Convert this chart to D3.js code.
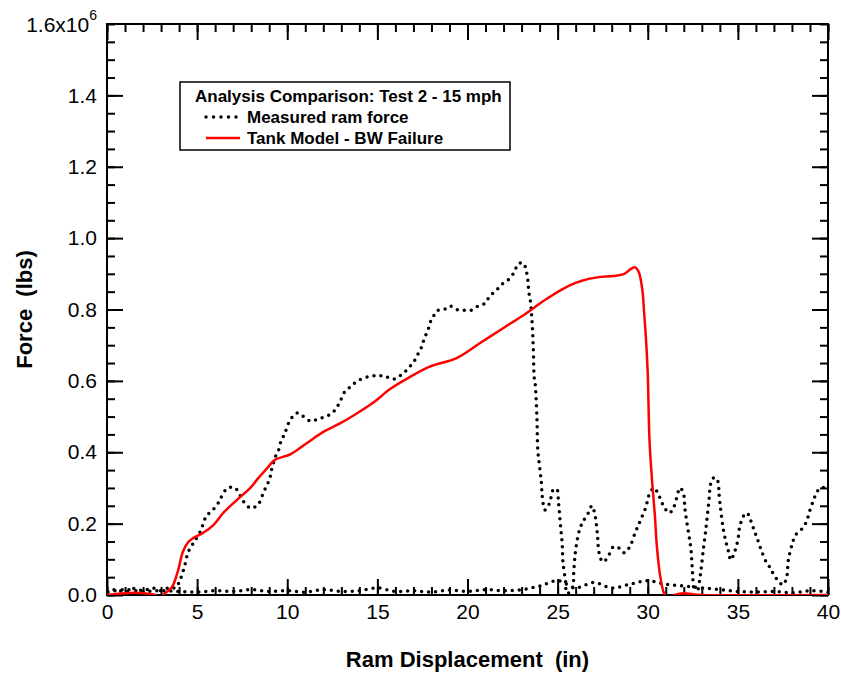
<!DOCTYPE html>
<html>
<head>
<meta charset="utf-8">
<script src="https://cdn.jsdelivr.net/npm/d3@7"></script>
<style>
  body { margin: 0; background: #fff; }
  svg { font-family: "Liberation Sans", Arial, sans-serif; }
  .axis path { display: none; }
  .axis line { stroke: #000; stroke-width: 2px; }
  .axis text { font-size: 21px; fill: #000; }
  .title { white-space: pre; }
</style>
</head>
<body>
<div id="vis"></div>
<script>
const MARGINS = { left: 107, right: 13, top: 24, bottom: 78 };
const FRAME_WIDTH = 841;
const FRAME_HEIGHT = 673;
const VIS_WIDTH = FRAME_WIDTH - MARGINS.left - MARGINS.right;
const VIS_HEIGHT = FRAME_HEIGHT - MARGINS.top - MARGINS.bottom;

// tick values
const X_MAJOR = [0, 5, 10, 15, 20, 25, 30, 35, 40];
const Y_MAJOR = [0, 0.2e6, 0.4e6, 0.6e6, 0.8e6, 1.0e6, 1.2e6, 1.4e6];

// measured ram force, loading (in, lbs x 1e6)
const measuredDisp = [0, 0.5, 1, 1.5, 2, 2.5, 3, 3.5, 3.8, 4.05, 4.3, 4.5, 4.8, 5.2, 5.5, 5.9, 6.2, 6.4, 6.7, 7.1,
  7.6, 8.0, 8.4, 8.7, 8.9, 9.05, 9.15, 9.4, 9.55, 9.67, 9.85, 10.0, 10.2, 10.55, 10.9, 11.3, 11.7, 12.1, 12.5, 12.8,
  13.0, 13.2, 13.55, 13.9, 14.5, 15.0, 15.4, 15.9, 16.4, 16.8, 17.1, 17.3, 17.5, 17.6, 17.8, 17.9, 18.1, 18.3, 18.7, 19.0,
  19.4, 19.8, 20.2, 20.6, 21.0, 21.2, 21.6, 21.9, 22.3, 22.6, 22.8, 23.1, 23.25, 23.35, 23.4, 23.5, 23.55, 23.6, 23.65, 23.7,
  23.75, 23.85, 23.9, 24.0, 24.1, 24.15, 24.3, 24.55, 24.75, 24.95, 25.05, 25.15, 25.25, 25.3, 25.45, 25.5, 25.8, 25.9, 26.0, 26.2,
  26.4, 26.7, 26.9, 27.05, 27.2, 27.3, 27.5, 27.75, 28.1, 28.4, 28.7, 29.0, 29.3, 29.6, 29.9, 30.05, 30.35, 30.65, 30.9, 31.2,
  31.45, 31.8, 32.0, 32.05, 32.15, 32.3, 32.4, 32.45, 32.5, 32.55, 32.75, 32.9, 33.0, 33.1, 33.2, 33.3, 33.4, 33.5, 33.7, 33.9,
  33.95, 34.05, 34.2, 34.35, 34.5, 34.6, 34.8, 35.0, 35.1, 35.3, 35.5, 35.7, 35.9, 36.1, 36.35, 36.6, 36.8, 37.0, 37.3, 37.5,
  37.7, 37.8, 38.0, 38.2, 38.6, 38.8, 39.0, 39.2, 39.4, 39.6, 40];
const measuredForce = [0.010, 0.015, 0.008, 0.018, 0.012, 0.020, 0.012, 0.022, 0.020, 0.042, 0.080, 0.120, 0.146, 0.180, 0.220, 0.240, 0.260, 0.280, 0.300, 0.300,
  0.260, 0.243, 0.255, 0.290, 0.310, 0.330, 0.355, 0.395, 0.410, 0.434, 0.450, 0.473, 0.493, 0.510, 0.500, 0.487, 0.493, 0.500, 0.510, 0.530,
  0.550, 0.570, 0.585, 0.600, 0.612, 0.615, 0.613, 0.605, 0.620, 0.640, 0.660, 0.680, 0.700, 0.720, 0.740, 0.760, 0.780, 0.796, 0.800, 0.810,
  0.800, 0.798, 0.798, 0.810, 0.818, 0.835, 0.854, 0.870, 0.885, 0.905, 0.927, 0.930, 0.910, 0.882, 0.850, 0.820, 0.790, 0.750, 0.690, 0.610,
  0.594, 0.500, 0.406, 0.360, 0.313, 0.275, 0.238, 0.257, 0.294, 0.297, 0.258, 0.200, 0.146, 0.090, 0.034, 0.005, 0.014, 0.070, 0.126, 0.180,
  0.205, 0.230, 0.250, 0.230, 0.174, 0.118, 0.093, 0.103, 0.135, 0.132, 0.118, 0.135, 0.174, 0.210, 0.247, 0.277, 0.300, 0.275, 0.247, 0.230,
  0.247, 0.300, 0.280, 0.247, 0.210, 0.163, 0.126, 0.090, 0.050, 0.022, 0.014, 0.050, 0.090, 0.135, 0.174, 0.220, 0.266, 0.313, 0.330, 0.317,
  0.286, 0.238, 0.182, 0.146, 0.118, 0.098, 0.118, 0.154, 0.190, 0.220, 0.230, 0.210, 0.182, 0.154, 0.118, 0.090, 0.076, 0.056, 0.036, 0.028,
  0.048, 0.098, 0.140, 0.168, 0.188, 0.205, 0.238, 0.266, 0.290, 0.300, 0.300];

// measured ram force, unloading back along zero
const unloadDisp = [40, 39, 38, 37, 36, 35, 34, 33, 32, 31, 30, 29, 28, 27, 26, 25, 24, 23, 22, 21,
  20, 19, 18, 17, 16, 15, 14, 13, 12, 11, 10, 9, 8, 7, 6, 5, 4, 3, 2, 1, 0];
const unloadForce = [0.008, 0.012, 0.006, 0.010, 0.008, 0.010, 0.015, 0.020, 0.025, 0.030, 0.040, 0.030, 0.020, 0.035, 0.020, 0.040, 0.025, 0.015, 0.012, 0.015,
  0.010, 0.014, 0.008, 0.012, 0.010, 0.020, 0.012, 0.010, 0.015, 0.008, 0.012, 0.010, 0.015, 0.010, 0.012, 0.008, 0.010, 0.012, 0.010, 0.015, 0.008];

// tank model - BW failure
const modelDisp = [0, 0.5, 1, 1.5, 2, 2.5, 2.7, 2.9, 3.1, 3.6, 3.95, 4.2, 4.5, 4.8, 5.3, 5.9, 6.45, 7.2, 7.95, 8.3,
  8.9, 9.3, 10.2, 11.1, 12.0, 12.9, 13.9, 14.8, 15.7, 16.6, 17.9, 19.4, 20.7, 21.8, 23.1, 24.4, 25.7, 26.3, 27.2, 28.1,
  28.7, 29.05, 29.3, 29.5, 29.7, 29.8, 29.9, 30.0, 30.1, 30.25, 30.4, 30.5, 30.7, 30.9, 31.1, 31.5, 32.0, 32.5, 33, 40];
const modelForce = [0.0, 0.003, 0.005, 0.006, 0.005, 0.002, 0.0, -0.01, 0.0, 0.022, 0.070, 0.120, 0.148, 0.160, 0.173, 0.196, 0.230, 0.266, 0.300, 0.322,
  0.356, 0.378, 0.395, 0.426, 0.457, 0.480, 0.510, 0.540, 0.577, 0.605, 0.640, 0.664, 0.706, 0.742, 0.784, 0.830, 0.868, 0.880, 0.890, 0.894,
  0.900, 0.913, 0.918, 0.905, 0.855, 0.790, 0.720, 0.620, 0.430, 0.313, 0.220, 0.140, 0.050, 0.005, -0.010, 0.0, 0.005, 0.002, 0.0, 0.0];

const FRAME = d3.select("#vis")
  .append("svg")
  .attr("width", FRAME_WIDTH)
  .attr("height", FRAME_HEIGHT);

const X_SCALE = d3.scaleLinear().domain([0, 40]).range([0, VIS_WIDTH]);
const Y_SCALE = d3.scaleLinear().domain([0, 1.6e6]).range([VIS_HEIGHT, 0]);

const g = FRAME.append("g")
  .attr("transform", "translate(" + MARGINS.left + "," + MARGINS.top + ")");

g.append("clipPath").attr("id", "clip")
  .append("rect").attr("width", VIS_WIDTH).attr("height", VIS_HEIGHT);

// minor ticks every 1 in / 0.05e6 lbs
const xMinor = d3.range(0, 41, 1);
const yMinor = d3.range(0, 33, 1).map((i) => i * 0.05e6);

function addAxis(axis, transform) {
  g.append("g").attr("class", "axis").attr("transform", transform).call(axis);
}

addAxis(d3.axisBottom(X_SCALE).tickValues(xMinor).tickSize(-8).tickFormat(""), "translate(0," + VIS_HEIGHT + ")");
addAxis(d3.axisBottom(X_SCALE).tickValues(X_MAJOR).tickSize(-16).tickPadding(9), "translate(0," + VIS_HEIGHT + ")");
addAxis(d3.axisTop(X_SCALE).tickValues(xMinor).tickSize(-8).tickFormat(""), "translate(0,0)");
addAxis(d3.axisTop(X_SCALE).tickValues(X_MAJOR).tickSize(-16).tickFormat(""), "translate(0,0)");
addAxis(d3.axisLeft(Y_SCALE).tickValues(yMinor).tickSize(-8).tickFormat(""), "translate(0,0)");
addAxis(d3.axisLeft(Y_SCALE).tickValues(Y_MAJOR).tickSize(-16).tickPadding(10)
  .tickFormat((d) => (d / 1e6).toFixed(1)), "translate(0,0)");
addAxis(d3.axisRight(Y_SCALE).tickValues(yMinor).tickSize(-8).tickFormat(""), "translate(" + VIS_WIDTH + ",0)");
addAxis(d3.axisRight(Y_SCALE).tickValues(Y_MAJOR).tickSize(-16).tickFormat(""), "translate(" + VIS_WIDTH + ",0)");

// top label 1.6x10^6
const topLabel = g.append("text")
  .attr("x", -10)
  .attr("y", Y_SCALE(1.6e6) + 8)
  .attr("text-anchor", "end")
  .attr("font-size", "21px");
topLabel.append("tspan").text("1.6x10");
topLabel.append("tspan").attr("dy", -12).attr("font-size", "14px").text("6");

// frame
g.append("rect")
  .attr("width", VIS_WIDTH)
  .attr("height", VIS_HEIGHT)
  .attr("fill", "none")
  .attr("stroke", "#000")
  .attr("stroke-width", 2);

const lineGen = d3.line()
  .x((d) => X_SCALE(d[0]))
  .y((d) => Y_SCALE(d[1] * 1e6))
  .curve(d3.curveCatmullRom.alpha(0.5));

const plot = g.append("g").attr("clip-path", "url(#clip)");

const dotted = { stroke: "#000", width: 3.5, dash: "0,7" };

[[measuredDisp, measuredForce], [unloadDisp, unloadForce]].forEach(([xs, ys]) => {
  plot.append("path")
    .datum(xs.map((x, i) => [x, ys[i]]))
    .attr("d", lineGen)
    .attr("fill", "none")
    .attr("stroke", dotted.stroke)
    .attr("stroke-width", dotted.width)
    .attr("stroke-linecap", "round")
    .attr("stroke-dasharray", dotted.dash);
});

plot.append("path")
  .datum(modelDisp.map((x, i) => [x, modelForce[i]]))
  .attr("d", lineGen)
  .attr("fill", "none")
  .attr("stroke", "#ff0000")
  .attr("stroke-width", 2.5);

// legend
const legend = FRAME.append("g");
legend.append("rect")
  .attr("x", 180).attr("y", 82)
  .attr("width", 330).attr("height", 68)
  .attr("fill", "#fff")
  .attr("stroke", "#000")
  .attr("stroke-width", 1.5);
legend.append("text")
  .attr("x", 195).attr("y", 102)
  .attr("font-size", "17px").attr("font-weight", "bold")
  .text("Analysis Comparison: Test 2 - 15 mph");
legend.append("line")
  .attr("x1", 206).attr("x2", 238).attr("y1", 117).attr("y2", 117)
  .attr("stroke", "#000").attr("stroke-width", 3.5)
  .attr("stroke-linecap", "round").attr("stroke-dasharray", "0,7.5");
legend.append("text")
  .attr("x", 247).attr("y", 123)
  .attr("font-size", "17px").attr("font-weight", "bold")
  .text("Measured ram force");
legend.append("line")
  .attr("x1", 206).attr("x2", 240).attr("y1", 138).attr("y2", 138)
  .attr("stroke", "#ff0000").attr("stroke-width", 2.5);
legend.append("text")
  .attr("x", 247).attr("y", 144)
  .attr("font-size", "17px").attr("font-weight", "bold")
  .text("Tank Model - BW Failure");

// axis titles
FRAME.append("text")
  .attr("class", "title")
  .attr("x", MARGINS.left + VIS_WIDTH / 2)
  .attr("y", 667)
  .attr("text-anchor", "middle")
  .attr("font-size", "22px").attr("font-weight", "bold")
  .text("Ram Displacement  (in)");

FRAME.append("text")
  .attr("class", "title")
  .attr("transform", "translate(32," + (MARGINS.top + VIS_HEIGHT / 2) + ") rotate(-90)")
  .attr("text-anchor", "middle")
  .attr("font-size", "22px").attr("font-weight", "bold")
  .text("Force  (lbs)");
</script>
</body>
</html>
